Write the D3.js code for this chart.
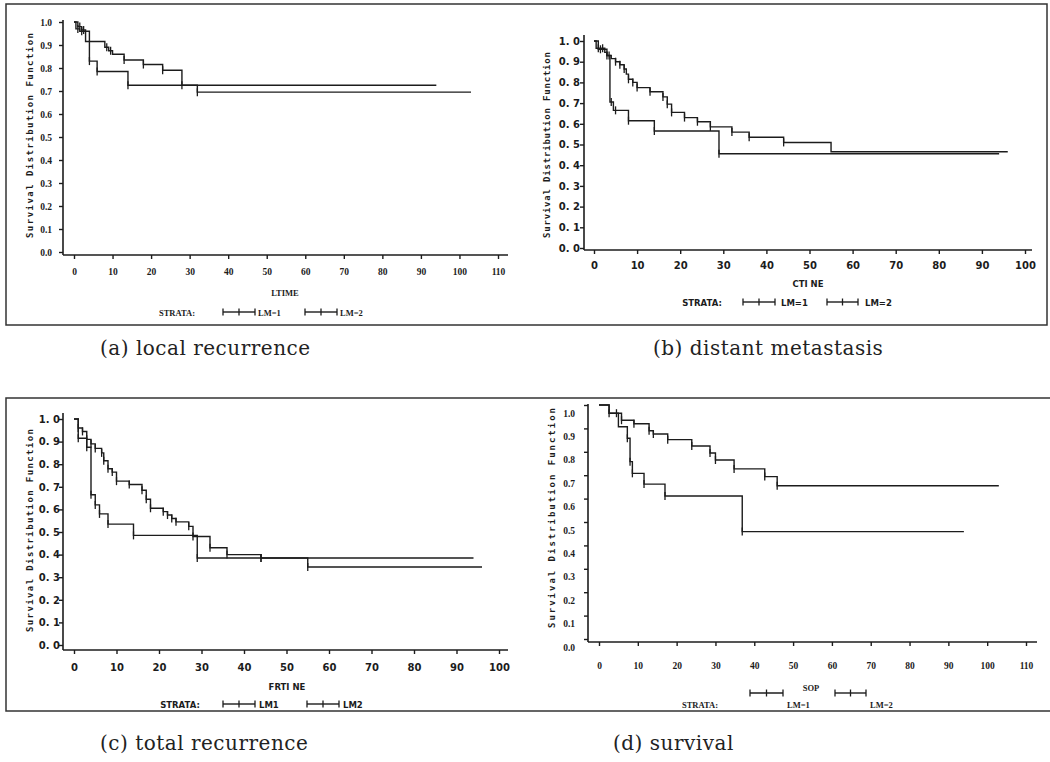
<!DOCTYPE html>
<html>
<head>
<meta charset="utf-8">
<title>Survival Distribution Function</title>
<script src="https://d3js.org/d3.v7.min.js"></script>
<style>
  body { margin: 0; background: #fff; }
  svg { display: block; }
</style>
</head>
<body>
<div id="chart"></div>
<script>
// step points: [time, survival after the drop]; last point = end of follow-up
// (a) local recurrence
const localLM1 = [[0,1],[1,0.98],[2,0.965],[3,0.915],[8,0.89],[9,0.875],[10,0.86],[13,0.835],[18,0.815],[23,0.79],[28,0.725],[94,0.725]];
const localLM1Cens = [1.5,2.5,8.5,9.5,13,18,23,28];
const localLM2 = [[0,1],[0.5,0.97],[1.5,0.96],[4,0.83],[6,0.785],[14,0.725],[32,0.695],[103,0.695]];
const localLM2Cens = [1,2,4,6,14,32];

// (b) distant metastasis
const distLM1 = [[0,1],[0.5,0.965],[2.5,0.945],[3,0.93],[4,0.915],[5,0.9],[6,0.885],[7,0.865],[7.5,0.84],[8,0.815],[9,0.8],[10,0.775],[13,0.755],[16,0.73],[17,0.695],[18,0.655],[21,0.63],[24,0.61],[27,0.585],[32,0.56],[36,0.535],[44,0.51],[55,0.465],[96,0.465]];
const distLM1Cens = [1,2,3.5,5,6,7,8,9,10,13,16,17,18,21,24,27,32,36,44];
const distLM2 = [[0,1],[1,0.96],[3,0.93],[3.7,0.705],[4.5,0.665],[8,0.615],[14,0.565],[29,0.455],[94,0.455]];
const distLM2Cens = [1.5,3,4,5,8,14,29];

// (c) total recurrence
const totLM1 = [[0,1],[1,0.96],[2,0.945],[3,0.91],[4,0.89],[5,0.87],[6.5,0.85],[7,0.815],[8,0.78],[9,0.765],[10,0.725],[13,0.71],[16,0.685],[17,0.645],[18,0.605],[21,0.59],[22,0.575],[23,0.56],[24,0.545],[27,0.525],[28,0.48],[32,0.43],[36,0.4],[44,0.385],[55,0.345],[96,0.345]];
const totLM1Cens = [1,2,3,4,5,6.5,7,8,9,10,13,16,17,18,21,22,23,24,27,28,32,36,44,55];
const totLM2 = [[0,1],[1,0.915],[3,0.875],[4,0.665],[5,0.62],[6,0.58],[8,0.535],[14,0.485],[29,0.385],[94,0.385]];
const totLM2Cens = [1,3,4,5,6,8,14,29,44];

// (d) survival
const survLM1 = [[0,1],[2.6,0.965],[5.8,0.935],[9,0.92],[12.9,0.89],[14,0.876],[17.7,0.852],[23.9,0.825],[28.6,0.795],[30,0.765],[34.8,0.727],[42.7,0.694],[45.9,0.655],[103,0.655]];
const survLM1Cens = [2.6,5.8,9,12.9,14,17.7,23.9,28.6,30,34.8,42.7,45.9];
const survLM2 = [[0,1],[2.6,0.965],[5,0.907],[7.3,0.858],[8,0.758],[8.6,0.708],[11.6,0.662],[17,0.611],[36.9,0.459],[94,0.459]];
const survLM2Cens = [4.5,7.3,8,8.6,11.6,17,36.9];

const xTicks110 = d3.range(0, 111, 10);
const xTicks100 = d3.range(0, 101, 10);
const yTicks = d3.range(0, 11).map(d => d / 10);

const captions = ["(a) local recurrence", "(b) distant metastasis", "(c) total recurrence", "(d) survival"];
const xTitles = ["LTIME", "CTI NE", "FRTI NE", "SOP"];
const yTitle = "Survival Distribution Function";

const ink = "#1c1c1c";
const serif = "'Liberation Serif', 'Times New Roman', serif";
const sans = "'DejaVu Sans', Arial, sans-serif";

const svg = d3.select("#chart").append("svg")
    .attr("width", 1050)
    .attr("height", 762);

// frames round the two rows
svg.append("rect")
    .attr("x", 6).attr("y", 4).attr("width", 1041).attr("height", 321)
    .attr("fill", "none").attr("stroke", "#333").attr("stroke-width", 1.5);
svg.append("path")
    .attr("d", "M1050,398H6V711H1050")
    .attr("fill", "none").attr("stroke", "#333").attr("stroke-width", 1.5);

var panels = [
  { xDomain: [0,110], xRange: [74,498], yRange: [252,22], axisX: 63, axisY: 255, xEnd: 508, yTop: 20,
    xTicks: xTicks110, font: serif, fs: 9.5, fmt: d3.format(".1f"), yLabRight: 52, yLabDy: 0,
    xLabY: 272, titleX: 285, titleY: 293, yT: [30, 33, 238],
    leg: { y: 313, symY: 312, strata: 177, s1: [223,255], l1: 258, s2: [305,337], l2: 340, labels: ["LM=1","LM=2"] },
    curves: [[localLM1, localLM1Cens], [localLM2, localLM2Cens]], cap: [100, 355] },
  { xDomain: [0,100], xRange: [594,1025], yRange: [248,41], axisX: 584, axisY: 250, xEnd: 1032, yTop: 35,
    xTicks: xTicks100, font: sans, fs: 10, fmt: d => d3.format(".1f")(d).replace(".", ". "), yLabRight: 580, yLabDy: 0,
    xLabY: 265, titleX: 808, titleY: 284, yT: [547, 52, 238],
    leg: { y: 303, symY: 302, strata: 702, s1: [743,775], l1: 781, s2: [827,858], l2: 865, labels: ["LM=1","LM=2"] },
    curves: [[distLM1, distLM1Cens], [distLM2, distLM2Cens]], cap: [653, 355] },
  { xDomain: [0,100], xRange: [74,499], yRange: [645,419], axisX: 63, axisY: 650, xEnd: 508, yTop: 413,
    xTicks: xTicks100, font: sans, fs: 10, fmt: d => d3.format(".1f")(d).replace(".", ". "), yLabRight: 60, yLabDy: 0,
    xLabY: 667, titleX: 287, titleY: 687, yT: [30, 429, 632],
    leg: { y: 705, symY: 704, strata: 180, s1: [223,255], l1: 259, s2: [307,339], l2: 343, labels: ["LM1","LM2"] },
    curves: [[totLM1, totLM1Cens], [totLM2, totLM2Cens]], cap: [100, 750] },
  { xDomain: [0,110], xRange: [599,1026], yRange: [639,405], axisX: 588, axisY: 642, xEnd: 1037, yTop: 404,
    xTicks: xTicks110, font: serif, fs: 9.5, fmt: d3.format(".1f"), yLabRight: 575, yLabDy: 8,
    xLabY: 666, titleX: 811, titleY: 688, yT: [552, 408, 628],
    leg: { y: 705, symY: 693, strata: 700, s1: [750,783], l1: 787, s2: [835,866], l2: 870, labels: ["LM=1","LM=2"] },
    curves: [[survLM1, survLM1Cens], [survLM2, survLM2Cens]], cap: [613, 750] }
];

var line = d3.line().curve(d3.curveStepAfter);

panels.forEach(function(p, i) {
  var x = d3.scaleLinear().domain(p.xDomain).range(p.xRange);
  var y = d3.scaleLinear().domain([0, 1]).range(p.yRange);
  var g = svg.append("g");
  var tick = 4;

  // axis lines (they run a little past the data range, as in the original)
  g.append("line")
      .attr("x1", p.axisX).attr("x2", p.axisX).attr("y1", p.yTop).attr("y2", p.axisY)
      .attr("stroke", ink).attr("stroke-width", 1.6);
  g.append("line")
      .attr("x1", p.axisX).attr("x2", p.xEnd).attr("y1", p.axisY).attr("y2", p.axisY)
      .attr("stroke", ink).attr("stroke-width", 1.6);

  // y axis
  var yAx = g.append("g")
      .attr("transform", "translate(" + p.axisX + ",0)")
      .call(d3.axisLeft(y).tickValues(yTicks).tickSize(tick)
            .tickPadding(p.axisX - p.yLabRight - tick).tickFormat(p.fmt));
  yAx.select(".domain").remove();
  yAx.selectAll("line").attr("stroke", ink).attr("stroke-width", 1.4);
  yAx.selectAll("text")
      .attr("fill", ink).attr("dy", (0.32 * p.fs + p.yLabDy) + "px")
      .style("font-family", p.font).style("font-weight", "bold").style("font-size", p.fs + "px");

  // x axis
  var xAx = g.append("g")
      .attr("transform", "translate(0," + p.axisY + ")")
      .call(d3.axisBottom(x).tickValues(p.xTicks).tickSize(tick)
            .tickPadding(p.xLabY - p.axisY - tick - 0.35 * p.fs));
  xAx.select(".domain").remove();
  xAx.selectAll("line").attr("stroke", ink).attr("stroke-width", 1.4);
  xAx.selectAll("text")
      .attr("fill", ink)
      .style("font-family", p.font).style("font-weight", "bold").style("font-size", p.fs + "px");

  // titles
  g.append("text")
      .attr("x", p.titleX).attr("y", p.titleY).attr("dy", "0.35em")
      .attr("text-anchor", "middle").attr("fill", ink)
      .style("font-family", p.font).style("font-weight", "bold").style("font-size", "8.5px")
      .text(xTitles[i]);
  g.append("text")
      .attr("transform", "translate(" + p.yT[0] + "," + p.yT[2] + ") rotate(-90)")
      .attr("dy", "0.35em").attr("fill", ink)
      .attr("textLength", p.yT[2] - p.yT[1]).attr("lengthAdjust", "spacing")
      .style("font-family", "'DejaVu Sans Mono', monospace").style("font-weight", "bold").style("font-size", "9px")
      .text(yTitle);

  // survival curves with censoring ticks
  p.curves.forEach(function(c) {
    var pts = c[0], cens = c[1];
    g.append("path")
        .attr("d", line(pts.map(function(d) { return [x(d[0]), y(d[1])]; })))
        .attr("fill", "none").attr("stroke", ink).attr("stroke-width", 1.4);
    g.selectAll(null)
        .data(cens)
        .enter()
        .append("line")
          .attr("x1", function(t) { return x(t); })
          .attr("x2", function(t) { return x(t); })
          .attr("y1", function(t) { return y(levelAt(pts, t)) - 4; })
          .attr("y2", function(t) { return y(levelAt(pts, t)) + 4; })
          .attr("stroke", ink).attr("stroke-width", 1.3);
  });

  // legend
  var L = p.leg;
  g.append("text")
      .attr("x", L.strata).attr("y", L.y).attr("dy", "0.35em").attr("text-anchor", "middle")
      .attr("fill", ink)
      .style("font-family", p.font).style("font-weight", "bold").style("font-size", "8.5px")
      .text("STRATA:");
  [[L.s1, L.l1], [L.s2, L.l2]].forEach(function(s, k) {
    var a = s[0][0], b = s[0][1], m = (a + b) / 2;
    g.append("line").attr("x1", a).attr("x2", b).attr("y1", L.symY).attr("y2", L.symY)
        .attr("stroke", ink).attr("stroke-width", 1.4);
    [a, m, b].forEach(function(tx) {
      g.append("line").attr("x1", tx).attr("x2", tx).attr("y1", L.symY - 3.5).attr("y2", L.symY + 3.5)
          .attr("stroke", ink).attr("stroke-width", 1.3);
    });
    g.append("text")
        .attr("x", s[1]).attr("y", L.y).attr("dy", "0.35em").attr("fill", ink)
        .style("font-family", p.font).style("font-weight", "bold").style("font-size", "8.5px")
        .text(L.labels[k]);
  });

  // caption under the panel
  svg.append("text")
      .attr("x", p.cap[0]).attr("y", p.cap[1])
      .attr("fill", "#222")
      .style("font-family", "'DejaVu Serif', serif").style("font-size", "20px")
      .style("letter-spacing", "0.5px")
      .text(captions[i]);
});

function levelAt(pts, t) {
  var s = pts[0][1];
  pts.forEach(function(d) { if (d[0] <= t) s = d[1]; });
  return s;
}
</script>
</body>
</html>
